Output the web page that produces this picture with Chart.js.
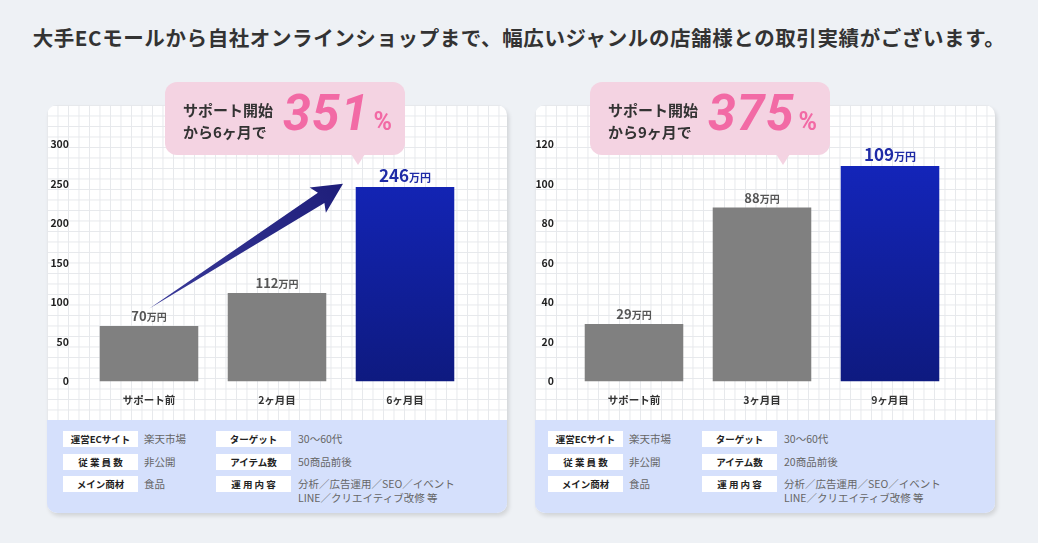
<!DOCTYPE html>
<html><head><meta charset="utf-8">
<script src="https://cdn.jsdelivr.net/npm/chart.js@4"></script>
<style>
body{margin:0;width:1038px;height:543px;background:#eef1f5;font-family:"Noto Sans CJK JP","Noto Sans",sans-serif;position:relative;overflow:hidden}
.title{position:absolute;top:22px;left:0;width:1038px;text-align:center;font-size:20.5px;font-weight:700;color:#333;letter-spacing:0.6px}
.card{position:absolute;top:105px;width:460px;height:408px;border-radius:10px;overflow:hidden;background-color:#fff;
background-image:linear-gradient(#e6e8ec 1px,transparent 1px),linear-gradient(90deg,#e6e8ec 1px,transparent 1px);background-size:10.5px 10.5px;box-shadow:2px 3px 4px rgba(0,0,0,0.12)}
.card canvas{position:absolute;left:0;top:25px}
.info{position:absolute;left:0;top:315px;width:460px;height:93px;background:#d5e0fc}
.lab{position:absolute;width:75px;height:16px;background:#fff;font-size:9.5px;font-weight:700;text-align:center;line-height:16px;color:#222}
.val{position:absolute;font-size:10.5px;color:#666;line-height:14px}
.call{position:absolute;top:82px;width:240px;height:73px;background:#f4d3e2;border-radius:12px}
.call:after{content:"";position:absolute;left:186px;bottom:-10px;border-left:7px solid transparent;border-right:7px solid transparent;border-top:11px solid #f4d3e2}
.ct{position:absolute;left:18px;top:17px;font-size:15px;font-weight:700;color:#333;line-height:22px}
.pct{position:absolute;left:118px;top:2px;font-size:50px;font-weight:700;color:#f26aa5;font-family:Roboto,sans-serif;font-style:italic;letter-spacing:1px}
.pct small{font-size:25px;font-style:normal;margin-left:4px}
</style></head><body>
<div class="title">大手ECモールから自社オンラインショップまで、幅広いジャンルの店舗様との取引実績がございます。</div>
<div class="card" style="left:47px"><canvas id="c1" width="460" height="290"></canvas>
<div class="info">
<div class="lab" style="left:16px;top:11px">運営ECサイト</div><div class="val" style="left:97px;top:12px">楽天市場</div>
<div class="lab" style="left:169px;top:11px">ターゲット</div><div class="val" style="left:251px;top:12px">30〜60代</div>
<div class="lab" style="left:16px;top:34px">従 業 員 数</div><div class="val" style="left:97px;top:35px">非公開</div>
<div class="lab" style="left:169px;top:34px">アイテム数</div><div class="val" style="left:251px;top:35px">50商品前後</div>
<div class="lab" style="left:16px;top:56px">メイン商材</div><div class="val" style="left:97px;top:57px">食品</div>
<div class="lab" style="left:169px;top:56px">運 用 内 容</div><div class="val" style="left:251px;top:57px">分析／広告運用／SEO／イベント<br>LINE／クリエイティブ改修 等</div>
</div></div>
<div class="card" style="left:535px"><canvas id="c2" width="460" height="290"></canvas>
<div class="info">
<div class="lab" style="left:13px;top:11px">運営ECサイト</div><div class="val" style="left:94px;top:12px">楽天市場</div>
<div class="lab" style="left:167px;top:11px">ターゲット</div><div class="val" style="left:249px;top:12px">30〜60代</div>
<div class="lab" style="left:13px;top:34px">従 業 員 数</div><div class="val" style="left:94px;top:35px">非公開</div>
<div class="lab" style="left:167px;top:34px">アイテム数</div><div class="val" style="left:249px;top:35px">20商品前後</div>
<div class="lab" style="left:13px;top:56px">メイン商材</div><div class="val" style="left:94px;top:57px">食品</div>
<div class="lab" style="left:167px;top:56px">運 用 内 容</div><div class="val" style="left:249px;top:57px">分析／広告運用／SEO／イベント<br>LINE／クリエイティブ改修 等</div>
</div></div>
<div class="call" style="left:165px"><div class="ct">サポート開始<br>から6ヶ月で</div><div class="pct">351<small>%</small></div></div>
<div class="call" style="left:590px"><div class="ct">サポート開始<br>から9ヶ月で</div><div class="pct">375<small>%</small></div></div>
<script>
const labels1=["サポート前","2ヶ月目","6ヶ月目"];
const values1=[70,112,246];
const labels2=["サポート前","3ヶ月目","9ヶ月目"];
const values2=[29,88,109];
const max1=300,step1=50,max2=120,step2=20;
const F='"Noto Sans CJK JP",sans-serif';

const valLabels={id:'vl',afterDatasetsDraw(ch){
  const ctx=ch.ctx,meta=ch.getDatasetMeta(0),d=ch.data.datasets[0].data;
  meta.data.forEach((b,i)=>{
    const last=i===d.length-1;
    const n=String(d[i]),big=last?17:13,sm=last?11:10;
    ctx.save();ctx.fillStyle=last?'#1f2ba6':'#555';ctx.textBaseline='alphabetic';
    ctx.font='700 '+big+'px '+F;const w1=ctx.measureText(n).width;
    ctx.font='700 '+sm+'px '+F;const w2=ctx.measureText('万円').width;
    const x0=b.x-(w1+w2)/2,y=b.y-5;
    ctx.font='700 '+big+'px '+F;ctx.fillText(n,x0,y);
    ctx.font='700 '+sm+'px '+F;ctx.fillText('万円',x0+w1,y);
    ctx.restore();
  });
}};
const arrow={id:'ar',afterDatasetsDraw(ch,a,o){
  if(!o.on)return;
  const x=ch.scales.x,y=ch.scales.y,ctx=ch.ctx;
  const sx=x.getPixelForValue(0),sy=y.getPixelForValue(92);
  const tx=x.getPixelForValue(2)-62,ty=y.getPixelForValue(250);
  const ang=Math.atan2(ty-sy,tx-sx),L=Math.hypot(tx-sx,ty-sy);
  ctx.save();ctx.translate(sx,sy);ctx.rotate(ang);
  const g=ctx.createLinearGradient(0,0,L,0);g.addColorStop(0,'#3a3a9a');g.addColorStop(1,'#1e1e7a');
  ctx.fillStyle=g;ctx.beginPath();
  ctx.moveTo(0,0);ctx.lineTo(L-26,-6);ctx.lineTo(L-30,-15);ctx.lineTo(L,0);ctx.lineTo(L-30,15);ctx.lineTo(L-26,6);ctx.closePath();ctx.fill();
  ctx.restore();
}};
function make(id,labels,values,max,step,yw,pr,arr){
  new Chart(document.getElementById(id),{type:'bar',
    data:{labels,datasets:[{data:values,
      backgroundColor:(c)=>{const ch=c.chart;if(c.dataIndex!==values.length-1)return '#808080';
        const ca=ch.chartArea;if(!ca)return '#1424b8';
        const g=ch.ctx.createLinearGradient(0,ca.top,0,ca.bottom);g.addColorStop(0,'#1426bf');g.addColorStop(1,'#0e1a80');return g;},
      borderWidth:0,barPercentage:0.77,categoryPercentage:1}]},
    options:{responsive:false,animation:false,
      layout:{padding:{top:5,right:pr,left:0,bottom:10}},
      plugins:{legend:{display:false},tooltip:{enabled:false},ar:{on:arr}},
      scales:{
        y:{min:0,max,ticks:{stepSize:step,color:'#222',font:{size:10.5,weight:'700',family:F},padding:8},grid:{display:false},border:{display:false},
           afterFit(s){s.width=yw;}},
        x:{ticks:{color:'#333',font:{size:10.5,weight:'700',family:F},padding:4},grid:{display:false},border:{display:false}}
      }},
    plugins:[valLabels,arrow]});
}
make('c1',labels1,values1,max1,step1,38,38,true);
make('c2',labels2,values2,max2,step2,35,41,false);
</script>
</body></html>
